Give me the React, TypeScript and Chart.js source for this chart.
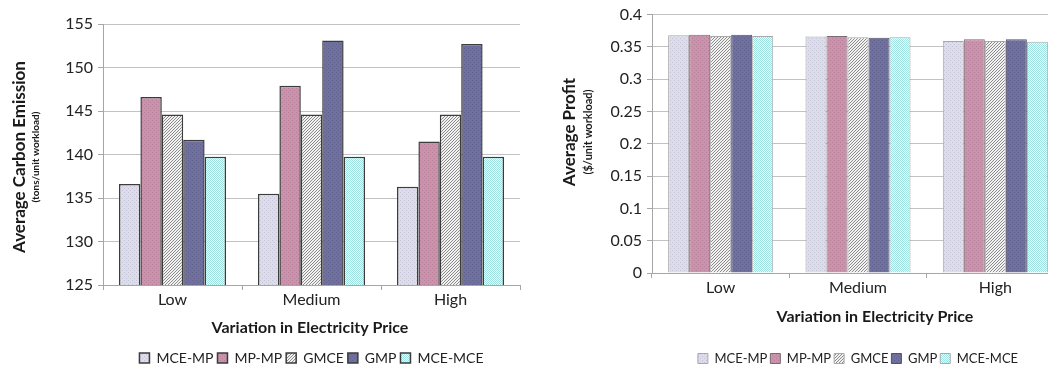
import React, { useEffect, useRef } from 'react';
import { Chart, registerables } from 'chart.js';

Chart.register(...registerables);

// ---------- data ----------
const categories = ['Low', 'Medium', 'High'];
const seriesNames = ['MCE-MP', 'MP-MP', 'GMCE', 'GMP', 'MCE-MCE'];

const emissionMceMp = [136.6, 135.5, 136.3];
const emissionMpMp = [146.6, 147.9, 141.5];
const emissionGmce = [144.6, 144.6, 144.6];
const emissionGmp = [141.7, 153.1, 152.7];
const emissionMceMce = [139.75, 139.75, 139.75];

const profitMceMp = [0.368, 0.366, 0.359];
const profitMpMp = [0.369, 0.367, 0.362];
const profitGmce = [0.367, 0.365, 0.359];
const profitGmp = [0.369, 0.364, 0.362];
const profitMceMce = [0.367, 0.365, 0.358];

const emissionAxis = { min: 125, max: 155, step: 5 };
const profitAxis = { min: 0, max: 0.4, step: 0.05 };

const xTitle = 'Variation in Electricity Price';
const emissionTitle = 'Average Carbon Emission';
const emissionUnit = '(tons/unit workload)';
const profitTitle = 'Average Profit';
const profitUnit = '($/unit workload)';

const FONT = 'Lato, "Open Sans", sans-serif';

// ---------- patterns ----------
function makePattern(size: number, draw: (ctx: CanvasRenderingContext2D) => void) {
  const c = document.createElement('canvas');
  c.width = size;
  c.height = size;
  const ctx = c.getContext('2d')!;
  draw(ctx);
  return ctx.createPattern(c, 'repeat')!;
}

function buildPatterns() {
  const dotted = (base: string, dot: string) =>
    makePattern(4, (ctx) => {
      ctx.fillStyle = base;
      ctx.fillRect(0, 0, 4, 4);
      ctx.fillStyle = dot;
      ctx.fillRect(0, 0, 1, 1);
      ctx.fillRect(2, 2, 1, 1);
    });
  const mceMp = dotted('#dcdcea', '#c4c4d6');
  const mpMp = dotted('#c993ad', '#b98199');
  const gmp = dotted('#70709f', '#62628f');
  const gmce = makePattern(3, (ctx) => {
    ctx.fillStyle = '#f2f2f2';
    ctx.fillRect(0, 0, 3, 3);
    ctx.fillStyle = '#8a8a8a';
    for (let i = 0; i < 3; i++) {
      ctx.fillRect(i, 2 - i, 1, 1);
    }
  });
  const mceMce = makePattern(2, (ctx) => {
    ctx.fillStyle = '#f2fdfd';
    ctx.fillRect(0, 0, 2, 2);
    ctx.fillStyle = '#9fe2e2';
    ctx.fillRect(0, 0, 1, 1);
    ctx.fillRect(1, 1, 1, 1);
  });
  return [mceMp, mpMp, gmce, gmp, mceMce];
}

// ---------- plugin: axis titles (rotated two-line y title, offset x title) ----------
const titlesPlugin = {
  id: 'panelTitles',
  afterDraw(chart: any, _args: any, opts: any) {
    if (!opts || !opts.yMain) return;
    const ctx = chart.ctx as CanvasRenderingContext2D;
    ctx.save();
    ctx.fillStyle = '#1a1a1a';
    ctx.textAlign = 'center';
    ctx.textBaseline = 'middle';
    ctx.font = `bold 16px ${FONT}`;
    ctx.fillText(opts.xText, opts.xTitleX, opts.xTitleY);
    ctx.translate(opts.yMainX, opts.yMainY);
    ctx.rotate(-Math.PI / 2);
    ctx.font = `bold ${opts.mainSize}px ${FONT}`;
    ctx.fillText(opts.yMain, 0, 0);
    ctx.font = `bold ${opts.subSize}px ${FONT}`;
    ctx.fillText(opts.ySub, opts.subShiftAlong, opts.subX - opts.yMainX);
    ctx.restore();
  },
};

type PanelCfg = {
  values: number[][];
  axis: { min: number; max: number; step: number };
  borderColors: string[];
  borderWidth: number;
  catPct: number;
  yWidth: number;
  xHeight: number;
  padding: { left: number; right: number; top: number; bottom: number };
  titles: any;
  legendFont: number;
  legendPad: number;
};

function Panel({ cfg, left, width }: { cfg: PanelCfg; left: number; width: number }) {
  const ref = useRef<HTMLCanvasElement | null>(null);
  useEffect(() => {
    const canvas = ref.current!;
    const patterns = buildPatterns();
    const chart = new Chart(canvas, {
      type: 'bar',
      data: {
        labels: categories,
        datasets: seriesNames.map((name, i) => ({
          label: name,
          data: cfg.values[i],
          backgroundColor: patterns[i],
          borderColor: cfg.borderColors[i],
          borderWidth: cfg.borderWidth,
          categoryPercentage: cfg.catPct,
          barPercentage: 1,
        })),
      },
      options: {
        responsive: false,
        animation: false,
        devicePixelRatio: 1,
        layout: { padding: cfg.padding },
        plugins: {
          tooltip: { enabled: false },
          legend: {
            position: 'bottom',
            fullSize: false,
            labels: {
              boxWidth: 10,
              boxHeight: 10,
              padding: cfg.legendPad,
              color: '#222',
              font: { family: FONT, size: cfg.legendFont },
            },
          },
          panelTitles: { ...cfg.titles, xText: xTitle },
        } as any,
        scales: {
          x: {
            grid: {
              offset: true,
              drawOnChartArea: false,
              drawTicks: true,
              tickLength: 5,
              color: '#a6a6a6',
            },
            border: { display: true, color: '#a6a6a6' },
            ticks: { padding: 0, color: '#222', font: { family: FONT, size: 16 } },
            afterFit: (s: any) => {
              s.height = cfg.xHeight;
            },
          },
          y: {
            min: cfg.axis.min,
            max: cfg.axis.max,
            grid: { color: '#c2c2c2', tickLength: 5, tickColor: '#a6a6a6' },
            border: { display: true, color: '#a6a6a6' },
            ticks: {
              stepSize: cfg.axis.step,
              padding: 5,
              color: '#222',
              font: { family: FONT, size: 16 },
              callback: (v: any) => String(Number(Number(v).toFixed(2))),
            },
            afterFit: (s: any) => {
              s.width = cfg.yWidth;
            },
          },
        },
      },
      plugins: [titlesPlugin],
    });
    return () => chart.destroy();
  }, []);
  return (
    <canvas
      ref={ref}
      width={width}
      height={367}
      style={{ position: 'absolute', left, top: 0, width, height: 367 }}
    />
  );
}

const leftCfg: PanelCfg = {
  values: [emissionMceMp, emissionMpMp, emissionGmce, emissionGmp, emissionMceMce],
  axis: emissionAxis,
  borderColors: ['#3c3c3c', '#3c3c3c', '#3c3c3c', '#3c3c3c', '#3c3c3c'],
  borderWidth: 1.5,
  catPct: 0.77,
  yWidth: 103,
  xHeight: 62,
  padding: { left: 0, right: 10, top: 24, bottom: -8 },
  titles: {
    xTitleX: 310,
    xTitleY: 328,
    yMain: emissionTitle,
    ySub: emissionUnit,
    yMainX: 20,
    yMainY: 157,
    subX: 36,
    subShiftAlong: 0,
    mainSize: 17,
    subSize: 10,
  },
  legendFont: 14,
  legendPad: 4,
};

const rightCfg: PanelCfg = {
  values: [profitMceMp, profitMpMp, profitGmce, profitGmp, profitMceMce],
  axis: profitAxis,
  borderColors: ['#a8a8a8', '#7a6a72', '#a8a8a8', '#50506a', '#a8a8a8'],
  borderWidth: 1,
  catPct: 0.765,
  yWidth: 122,
  xHeight: 76,
  padding: { left: 0, right: 6, top: 12, bottom: -8 },
  titles: {
    xTitleX: 345,
    xTitleY: 317,
    yMain: profitTitle,
    ySub: profitUnit,
    yMainX: 40,
    yMainY: 132,
    subX: 58,
    subShiftAlong: 0,
    mainSize: 17,
    subSize: 11,
  },
  legendFont: 13,
  legendPad: 3,
};

export default function App() {
  useEffect(() => {
    document.body.style.margin = '0';
  }, []);
  return (
    <div
      style={{
        position: 'fixed',
        left: 0,
        top: 0,
        width: 1048,
        height: 367,
        overflow: 'hidden',
        background: '#fff',
      }}
    >
      <Panel cfg={leftCfg} left={0} width={530} />
      <Panel cfg={rightCfg} left={530} width={540} />
    </div>
  );
}
